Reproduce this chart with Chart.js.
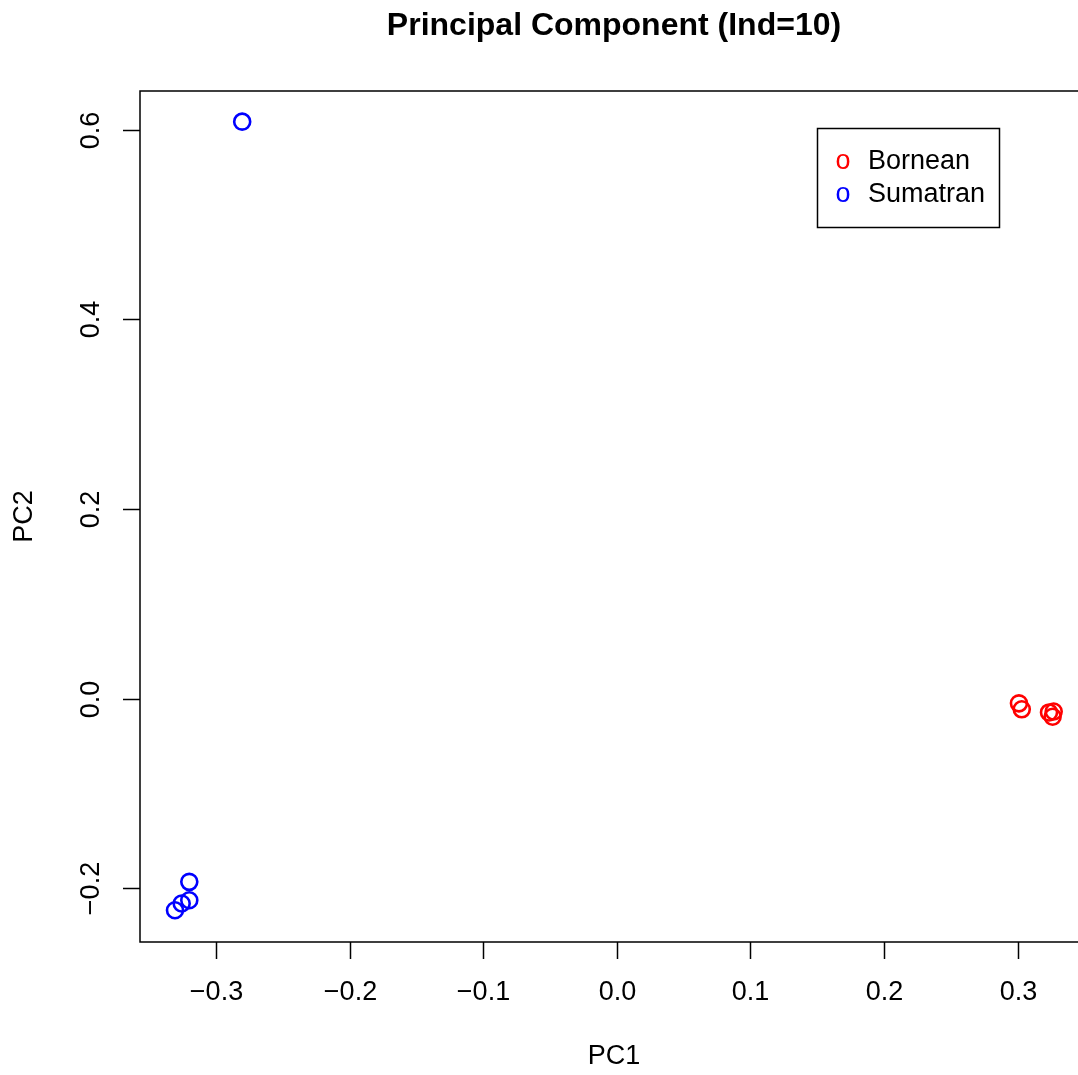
<!DOCTYPE html>
<html>
<head>
<meta charset="utf-8">
<script src="https://cdn.jsdelivr.net/npm/chart.js@4.4.1/dist/chart.umd.min.js"></script>
<style>
  html, body { margin: 0; padding: 0; background: #fff; }
  #wrap { width: 1078px; height: 1075px; }
</style>
</head>
<body>
<div id="wrap"><canvas id="pca" width="1078" height="1075"></canvas></div>
<script>
// PCA scores
const borneanPC1 = [0.3010, 0.3031, 0.3235, 0.3270, 0.3262];
const borneanPC2 = [-0.0049, -0.0112, -0.0145, -0.0135, -0.0190];
const sumatranPC1 = [-0.2805, -0.3201, -0.3201, -0.3258, -0.3308];
const sumatranPC2 = [0.6083, -0.1931, -0.2125, -0.2159, -0.2230];

const xTicks = [-0.3, -0.2, -0.1, 0.0, 0.1, 0.2, 0.3];
const yTicks = [-0.2, 0.0, 0.2, 0.4, 0.6];

const FONT = '"Liberation Sans", Arial, Helvetica, sans-serif';

function toPoints(xs, ys) {
    return xs.map((x, i) => ({ x: x, y: ys[i] }));
}

function fmt(v) {
    return v.toFixed(1).replace('-', '\u2212');
}

// R-style frame, ticks, labels and legend
const baseGraphics = {
    id: 'baseGraphics',
    afterDraw(chart) {
        const ctx = chart.ctx;
        const area = chart.chartArea;
        const xs = chart.scales.x;
        const ys = chart.scales.y;
        ctx.save();
        ctx.strokeStyle = '#000';
        ctx.fillStyle = '#000';
        ctx.lineWidth = 1.5;

        // box (right side falls past the canvas edge)
        ctx.beginPath();
        ctx.moveTo(chart.width + 20, area.top);
        ctx.lineTo(area.left, area.top);
        ctx.lineTo(area.left, area.bottom);
        ctx.lineTo(chart.width + 20, area.bottom);
        ctx.stroke();

        ctx.font = '27px ' + FONT;
        ctx.textAlign = 'center';
        ctx.textBaseline = 'middle';

        // x axis
        xTicks.forEach(v => {
            const px = Math.round(xs.getPixelForValue(v)) + 0.5;
            ctx.beginPath();
            ctx.moveTo(px, area.bottom);
            ctx.lineTo(px, area.bottom + 17);
            ctx.stroke();
            ctx.fillText(fmt(v), px, 993);
        });

        // y axis, labels turned
        yTicks.forEach(v => {
            const py = Math.round(ys.getPixelForValue(v)) + 0.5;
            ctx.beginPath();
            ctx.moveTo(area.left, py);
            ctx.lineTo(area.left - 17, py);
            ctx.stroke();
            ctx.save();
            ctx.translate(92, py);
            ctx.rotate(-Math.PI / 2);
            ctx.fillText(fmt(v), 0, 0);
            ctx.restore();
        });

        // axis titles
        ctx.fillText('PC1', 614, 1057);
        ctx.save();
        ctx.translate(25, (area.top + area.bottom) / 2);
        ctx.rotate(-Math.PI / 2);
        ctx.fillText('PC2', 0, 0);
        ctx.restore();

        // main title
        ctx.font = 'bold 32px ' + FONT;
        ctx.fillText('Principal Component (Ind=10)', 614, 26);

        // legend
        ctx.lineWidth = 1.5;
        ctx.strokeRect(817.5, 128.5, 182, 99);
        ctx.font = '27px ' + FONT;
        chart.data.datasets.forEach((ds, i) => {
            const rowY = 162 + i * 33;
            ctx.fillStyle = ds.borderColor;
            ctx.textAlign = 'center';
            ctx.fillText('o', 843, rowY);
            ctx.fillStyle = '#000';
            ctx.textAlign = 'left';
            ctx.fillText(ds.label, 868, rowY);
        });
        ctx.restore();
    }
};

new Chart(document.getElementById('pca'), {
    type: 'scatter',
    data: {
        datasets: [
            {
                label: 'Bornean',
                data: toPoints(borneanPC1, borneanPC2),
                borderColor: '#ff0000',
                backgroundColor: 'rgba(0,0,0,0)',
                pointRadius: 8,
                pointBorderWidth: 2.6,
                pointHoverRadius: 8
            },
            {
                label: 'Sumatran',
                data: toPoints(sumatranPC1, sumatranPC2),
                borderColor: '#0000ff',
                backgroundColor: 'rgba(0,0,0,0)',
                pointRadius: 8,
                pointBorderWidth: 2.6,
                pointHoverRadius: 8
            }
        ]
    },
    options: {
        responsive: false,
        animation: false,
        events: [],
        layout: {
            autoPadding: false,
            padding: { left: 140, top: 91, right: 0, bottom: 133 }
        },
        scales: {
            x: { type: 'linear', display: false, min: -0.357, max: 0.3452 },
            y: { type: 'linear', display: false, min: -0.2565, max: 0.6406 }
        },
        plugins: {
            legend: { display: false },
            title: { display: false },
            tooltip: { enabled: false }
        }
    },
    plugins: [baseGraphics]
});
</script>
</body>
</html>
